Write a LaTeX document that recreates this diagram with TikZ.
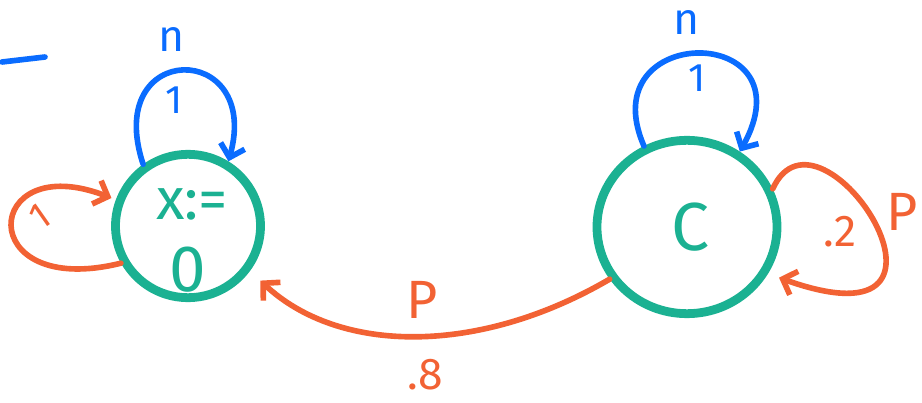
\documentclass[tikz,border=0pt]{standalone}
\usepackage{fontspec}
\setmainfont{Fira Sans}
\usetikzlibrary{arrows.meta,shapes.geometric}
\definecolor{stateaccent}{HTML}{1BB192}
\definecolor{countaccent}{HTML}{0A6CFF}
\definecolor{chanceaccent}{HTML}{F26234}
\tikzset{
  state/.style={
    ellipse,
    inner sep=0pt,
    line width=7.5pt,
    draw=stateaccent,
  },
  state text/.style={
    text=stateaccent,
    inner sep=0pt,
    font=\fontsize{50}{52}\selectfont,
  },
  count loop/.style={
    -{Straight Barb[length=3.6mm,width=7.5mm]},
    draw=countaccent,
    line width=4.8pt,
    line cap=round,
  },
  chance edge/.style={
    -{Straight Barb[length=3.6mm,width=7.5mm]},
    draw=chanceaccent,
    line width=4.8pt,
    line cap=round,
  },
  count label/.style={
    text=countaccent,
    inner sep=0pt,
    font=\fontsize{38}{40}\selectfont,
  },
  chance label/.style={
    text=chanceaccent,
    inner sep=0pt,
    font=\fontsize{46}{48}\selectfont,
  },
}

\begin{document}
\begin{tikzpicture}[x=0.03cm,y=-0.03cm]
  \useasboundingbox (0,0) rectangle (922,403);

  % The two states.
  \node[state, minimum width=4.35cm, minimum height=4.3cm] (init) at (188,226) {};
  \node[state, minimum width=5.4cm, minimum height=5.2cm] (count) at (687,227) {};

  % Texts inside the states.
  \node[state text] (assign) at (192,204) {x:=};
  \node[state text, font=\fontsize{56}{58}\selectfont] (zero) at (188,270) {0};
  \node[state text, font=\fontsize{58}{60}\selectfont] (cee) at (691,227) {C};

  % Stray stroke at the top left.
  \coordinate (strokea) at (2,62);
  \coordinate (strokeb) at (45,57);
  \draw[draw=countaccent, line width=4.8pt, line cap=round] (strokea) -- (strokeb);

  % Blue self loops on both states.
  \draw[count loop] (init.126) .. controls (102,40) and (262,40) .. (init.58);
  \node[count label, font=\fontsize{34}{36}\selectfont] (onea) at (174,100) {1};
  \node[count label] (na) at (172,40) {n};

  \draw[count loop] (count.118) .. controls (590,22) and (812,22) .. (count.55);
  \node[count label, font=\fontsize{34}{36}\selectfont] (oneb) at (697,78) {1};
  \node[count label] (nb) at (687,23) {n};

  % Orange self loops.
  \draw[chance edge, shorten >=4pt] (init.209) .. controls (-28,300) and (-18,148) .. (init.160);
  \node[chance label, font=\fontsize{32}{34}\selectfont, rotate=35] (onec) at (40,217) {1};

  \draw[chance edge, shorten >=10pt] (count.24) .. controls (820,85) and (995,355) .. (count.-30);
  \node[chance label, font=\fontsize{38}{40}\selectfont] (ptwo) at (840,232) {.2};
  \node[chance label] (pa) at (902,212) {P};

  % Orange transition back to the initial state.
  \draw[chance edge, shorten >=12pt] (count.214) .. controls (480,355) and (340,355) .. (init.-36);
  \node[chance label] (pb) at (422,300) {P};
  \node[chance label, font=\fontsize{38}{40}\selectfont] (peight) at (425,375) {.8};
\end{tikzpicture}
\end{document}
